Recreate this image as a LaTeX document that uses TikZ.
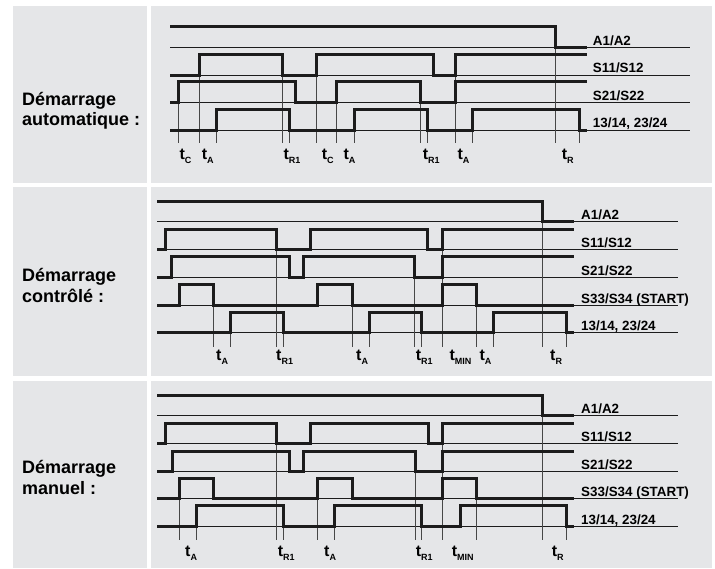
\documentclass[tikz,border=0pt]{standalone}
\usepackage{fontspec}
\setmainfont{Liberation Sans}
\usetikzlibrary{positioning}

\definecolor{panelgray}{RGB}{229,230,232}
\definecolor{inkdark}{RGB}{28,28,28}
\newcommand{\tsub}[1]{t\raisebox{-4pt}{\fontsize{9}{9}\selectfont #1}}

\begin{document}
\begin{tikzpicture}[
    x=1pt, y=-1pt,
    panel/.style={fill=panelgray, draw=none},
    sig/.style={draw=inkdark, line width=3pt},
    rail/.style={draw=inkdark, line width=0.9pt},
    guide/.style={draw=black!72, line width=0.8pt},
    mode/.style={anchor=west, align=left, inner sep=0pt, font=\fontsize{18}{20.5}\selectfont\bfseries},
    chan/.style={anchor=base west, inner sep=0pt, font=\fontsize{13.4}{15}\selectfont\bfseries},
    tlab/.style={anchor=base west, inner sep=0pt, font=\fontsize{16}{17}\selectfont\bfseries}
  ]
    \fill[white] (0,0) rectangle (715,568);
    \useasboundingbox (0,0) rectangle (715,568);

    % panels
    \fill[panel] (12.7,5.7) rectangle (146.7,182.7);
    \fill[panel] (150.7,5.7) rectangle (711.7,182.7);
    \fill[panel] (12.7,186.7) rectangle (146.7,376);
    \fill[panel] (150.7,186.7) rectangle (711.7,376);
    \fill[panel] (12.7,380.7) rectangle (146.7,568);
    \fill[panel] (150.7,380.7) rectangle (711.7,568);

    \node[mode] (modeAuto) at (22,111) {Démarrage\\automatique :};
    \node[mode] (modeCtrl) at (22,285.5) {Démarrage\\contrôlé :};
    \node[mode] (modeMan) at (22,477.5) {Démarrage\\manuel :};

    % --- automatique
    \foreach \y in {47.7,75,102.7,130} \draw[rail] (170,\y) -- (690,\y);
    \draw[guide] (178.3,81.7) -- (178.3,143) (199.3,54) -- (199.3,143)
      (216.7,109.3) -- (216.7,143) (282.3,54) -- (282.3,143)
      (289,109.3) -- (289,143) (316,54) -- (316,143)
      (336.7,81.7) -- (336.7,143) (354.3,109.3) -- (354.3,143)
      (420,81.7) -- (420,143) (427.3,109.3) -- (427.3,143)
      (455,54) -- (455,143) (472.3,109.3) -- (472.3,143)
      (555,26) -- (555,143) (579.3,109.3) -- (579.3,143);
    \draw[sig] (170,26) -| (555,47.7) -- (587,47.7);
    \draw[sig] (170,75) -| (199.3,54) -| (282.3,75) -| (316,54) -| (433.8,75) -| (455,54) -- (587,54);
    \draw[sig] (170,102.7) -| (178.3,81.7) -| (295.7,102.7) -| (336.7,81.7) -| (420,102.7) -| (455,81.7) -- (587,81.7);
    \draw[sig] (170,130) -| (216.7,109.3) -| (289,130) -| (354.3,109.3) -| (427.3,130) -| (472.3,109.3) -| (579.3,130) -- (587,130);

    \node[chan] (a1Auto) at (592.7,45.2) {A1/A2};
    \node[chan] (s11Auto) at (592.7,72.5) {S11/S12};
    \node[chan] (s21Auto) at (592.7,100.2) {S21/S22};
    \node[chan] (outAuto) at (592.7,127.5) {13/14, 23/24};

    \node[tlab] (tcAuto) at (179.3,159.5) {\tsub{C}};
    \node[tlab] (taAuto) at (201.7,159.5) {\tsub{A}};
    \node[tlab] (tr1Auto) at (283.3,159.5) {\tsub{R1}};
    \node[tlab] (tcbAuto) at (321.7,159.5) {\tsub{C}};
    \node[tlab] (tabAuto) at (343.3,159.5) {\tsub{A}};
    \node[tlab] (tr1bAuto) at (422.7,159.5) {\tsub{R1}};
    \node[tlab] (tacAuto) at (457.3,159.5) {\tsub{A}};
    \node[tlab] (trAuto) at (561.7,159.5) {\tsub{R}};

    % --- contrôlé
    \foreach \y in {221.7,249,277.3,305,332.7} \draw[rail] (157.3,\y) -- (678,\y);
    \draw[guide] (213.3,284.3) -- (213.3,346.7) (230.7,312.3) -- (230.7,346.7)
      (276,229) -- (276,346.7) (283.3,312.3) -- (283.3,346.7)
      (352.3,284.3) -- (352.3,346.7) (369,312.3) -- (369,346.7)
      (414.6,256.7) -- (414.6,346.7) (421.7,312.3) -- (421.7,346.7)
      (442.3,229) -- (442.3,346.7) (476.7,284.3) -- (476.7,346.7)
      (493.3,312.3) -- (493.3,346.7) (542.7,201) -- (542.7,346.7)
      (566.7,312.3) -- (566.7,346.7);
    \draw[sig] (157.3,201) -| (542.7,221.7) -- (574,221.7);
    \draw[sig] (157.3,249) -| (165,229) -| (276,249) -| (310.7,229) -| (427.8,249) -| (442.3,229) -- (574,229);
    \draw[sig] (157.3,277.3) -| (171.7,256.7) -| (289.3,277.3) -| (303.3,256.7) -| (414.6,277.3) -| (442.3,256.7) -- (574,256.7);
    \draw[sig] (157.3,305) -| (179.3,284.3) -| (213.3,305) -| (317.3,284.3) -| (352.3,305) -| (442.3,284.3) -| (476.7,305) -- (574,305);
    \draw[sig] (157.3,332.7) -| (230.7,312.3) -| (283.3,332.7) -| (369,312.3) -| (421.7,332.7) -| (493.3,312.3) -| (566.7,332.7) -- (574,332.7);

    \node[chan] (a1Ctrl) at (581,219.7) {A1/A2};
    \node[chan] (s11Ctrl) at (581,247) {S11/S12};
    \node[chan] (s21Ctrl) at (581,275.3) {S21/S22};
    \node[chan] (s33Ctrl) at (581,303) {S33/S34 (START)};
    \node[chan] (outCtrl) at (581,330.7) {13/14, 23/24};

    \node[tlab] (taCtrl) at (216,360.7) {\tsub{A}};
    \node[tlab] (tr1Ctrl) at (276,360.7) {\tsub{R1}};
    \node[tlab] (tabCtrl) at (356,360.7) {\tsub{A}};
    \node[tlab] (tr1bCtrl) at (415.7,360.7) {\tsub{R1}};
    \node[tlab] (tminCtrl) at (449.3,360.7) {\tsub{MIN}};
    \node[tlab] (tacCtrl) at (479.3,360.7) {\tsub{A}};
    \node[tlab] (trCtrl) at (550,360.7) {\tsub{R}};

    % --- manuel
    \foreach \y in {415.7,443.3,471,498.3,526} \draw[rail] (157.3,\y) -- (678,\y);
    \draw[guide] (179.3,478.3) -- (179.3,540) (196,505.7) -- (196,540)
      (276,423.3) -- (276,540) (283.3,505.7) -- (283.3,540)
      (317.3,478.3) -- (317.3,540) (334.3,505.7) -- (334.3,540)
      (415,451) -- (415,540) (421,505.7) -- (421,540)
      (442.3,423.3) -- (442.3,540) (476.7,478.3) -- (476.7,540)
      (542.7,395) -- (542.7,540) (566.7,505.7) -- (566.7,540);
    \draw[sig] (157.3,395) -| (542.7,415.7) -- (574,415.7);
    \draw[sig] (157.3,443.3) -| (165,423.3) -| (276,443.3) -| (310.7,423.3) -| (428.3,443.3) -| (442.3,423.3) -- (574,423.3);
    \draw[sig] (157.3,471) -| (172.3,451) -| (289.3,471) -| (303.3,451) -| (415,471) -| (442.3,451) -- (574,451);
    \draw[sig] (157.3,498.3) -| (179.3,478.3) -| (213.3,498.3) -| (317.3,478.3) -| (352.3,498.3) -| (442.3,478.3) -| (476.7,498.3) -- (574,498.3);
    \draw[sig] (157.3,526) -| (196,505.7) -| (283.3,526) -| (334.3,505.7) -| (421,526) -| (460,505.7) -| (566.7,526) -- (574,526);

    \node[chan] (a1Man) at (581,413.7) {A1/A2};
    \node[chan] (s11Man) at (581,441.3) {S11/S12};
    \node[chan] (s21Man) at (581,469) {S21/S22};
    \node[chan] (s33Man) at (581,496.3) {S33/S34 (START)};
    \node[chan] (outMan) at (581,524) {13/14, 23/24};

    \node[tlab] (taMan) at (185,556.7) {\tsub{A}};
    \node[tlab] (tr1Man) at (277.7,556.7) {\tsub{R1}};
    \node[tlab] (tabMan) at (324,556.7) {\tsub{A}};
    \node[tlab] (tr1bMan) at (415.7,556.7) {\tsub{R1}};
    \node[tlab] (tminMan) at (451.7,556.7) {\tsub{MIN}};
    \node[tlab] (trMan) at (551.7,556.7) {\tsub{R}};
  \end{tikzpicture}
\end{document}
